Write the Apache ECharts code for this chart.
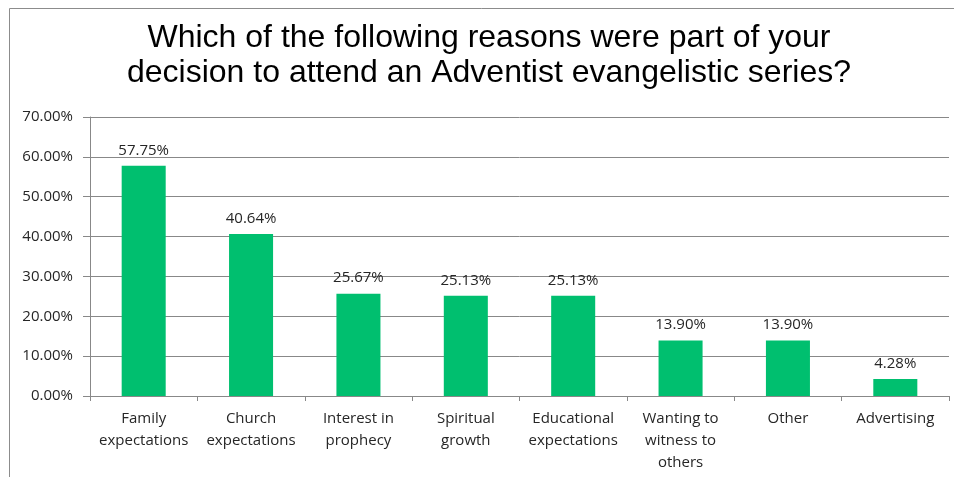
<!DOCTYPE html>
<html>
<head>
<meta charset="utf-8">
<script src="https://cdn.jsdelivr.net/npm/echarts@6/dist/echarts.min.js"></script>
<style>
html,body{margin:0;padding:0;background:#fff;}
#chart{width:954px;height:477px;}
</style>
</head>
<body>
<div id="chart"></div>
<script>
var titleLines = ["Which of the following reasons were part of your", "decision to attend an Adventist evangelistic series?"];
var categories = ["Family\nexpectations", "Church\nexpectations", "Interest in\nprophecy", "Spiritual\ngrowth", "Educational\nexpectations", "Wanting to\nwitness to\nothers", "Other", "Advertising"];
var values = [57.75, 40.64, 25.67, 25.13, 25.13, 13.90, 13.90, 4.28];
var yMin = 0, yMax = 70, yStep = 10;

var chart = echarts.init(document.getElementById('chart'), null, {renderer: 'canvas'});
chart.setOption({
  animation: false,
  backgroundColor: '#ffffff',
  graphic: [{
    type: 'polyline',
    shape: {points: [[9.5, 480], [9.5, 8.5], [954, 8.5]]},
    style: {stroke: '#8c8c8c', lineWidth: 1, fill: null},
    silent: true
  }, {
    type: 'text',
    x: 489,
    y: 21,
    silent: true,
    style: {
      text: titleLines.join('\n'),
      align: 'center',
      verticalAlign: 'top',
      fontFamily: 'Liberation Sans',
      fontSize: 32,
      lineHeight: 35,
      fill: '#000'
    }
  }],
  grid: {left: 90, right: 5, top: 117, bottom: 81, containLabel: false},
  xAxis: {
    type: 'category',
    data: categories,
    axisLine: {lineStyle: {color: '#888', width: 1}},
    axisTick: {show: true, length: 5, lineStyle: {color: '#888'}},
    axisLabel: {margin: 12, color: '#262626', fontFamily: 'Open Sans', fontSize: 15, lineHeight: 22, interval: 0}
  },
  yAxis: {
    type: 'value',
    min: yMin, max: yMax, interval: yStep,
    axisLine: {show: true, lineStyle: {color: '#888', width: 1}},
    axisTick: {show: true, length: 7, lineStyle: {color: '#888'}},
    splitLine: {show: true, lineStyle: {color: '#888', width: 1}},
    axisLabel: {margin: 17, color: '#262626', fontFamily: 'Open Sans', fontSize: 15, formatter: function(v){return v.toFixed(2) + '%';}}
  },
  series: [{
    type: 'bar',
    data: values,
    barWidth: '41%',
    itemStyle: {color: '#00BF6F'},
    label: {show: true, position: 'top', distance: 8, color: '#262626', fontFamily: 'Open Sans', fontSize: 15, formatter: function(p){return p.value.toFixed(2) + '%';}}
  }]
});
</script>
</body>
</html>
